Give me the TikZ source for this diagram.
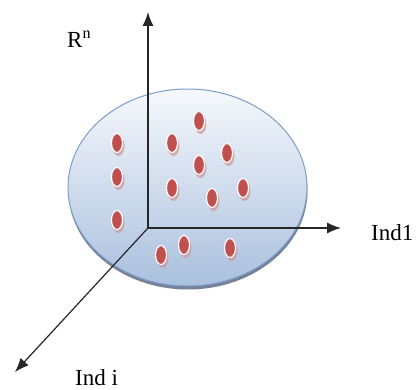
\documentclass[tikz,border=0pt]{standalone}
\usepackage{fontspec}
\setmainfont{Liberation Serif}
\usetikzlibrary{arrows.meta}
\definecolor{diskline}{RGB}{122,158,204}
\definecolor{disktop}{RGB}{246,248,252}
\definecolor{diskbot}{RGB}{170,192,222}
\definecolor{diskrim}{RGB}{120,130,150}
\definecolor{dotred}{RGB}{192,80,77}
\definecolor{dotshade}{RGB}{205,150,150}

\begin{document}
\begin{tikzpicture}[x=1pt,y=-1pt,
    axis/.style={line width=1.2pt, black!85, -{Latex[length=14pt,width=11pt]}},
    lab/.style={font=\fontsize{23}{27}\selectfont, inner sep=0pt},
    dot/.style={fill=dotred, draw=white, line width=1.2pt},
    dotshadow/.style={fill=dotshade, opacity=0.7}]

\useasboundingbox (0,0) rectangle (420,390);

%---------------------------------------
% Disk
%---------------------------------------
\fill[diskrim] (188,191) ellipse (119.5 and 98.5);
\shade[top color=disktop, bottom color=diskbot, draw=diskline, line width=1pt]
      (187.5,187.5) ellipse (119.5 and 98.5);

%---------------------------------------
% Axes
%---------------------------------------
\coordinate (O) at (148,228);
\coordinate (up) at (148,12);
\coordinate (ind1) at (341,228);
\coordinate (indi) at (15,372);

\draw[axis] (O) -- (up);
\draw[axis] (O) -- (ind1);
\draw[axis] (O) -- (indi);

\node[lab, anchor=base west] (rn) at (67,48) {R\textsuperscript{n}};
\node[lab, anchor=base west] (lind1) at (371,240) {Ind1};
\node[lab, anchor=base west] (lindi) at (75,385) {Ind i};

%---------------------------------------
% Points
%---------------------------------------
\foreach \x/\y in {199/121, 117/143, 172/143, 227/153, 199/165, 117/177,
                   172/188, 243/188, 212/198, 117/220, 184/245, 230/248, 161/255}{
  \fill[dotshadow] (\x+1.5,\y+3) ellipse (6 and 10);
  \draw[dot] (\x,\y) ellipse (5.5 and 9.5);
}

\end{tikzpicture}
\end{document}
